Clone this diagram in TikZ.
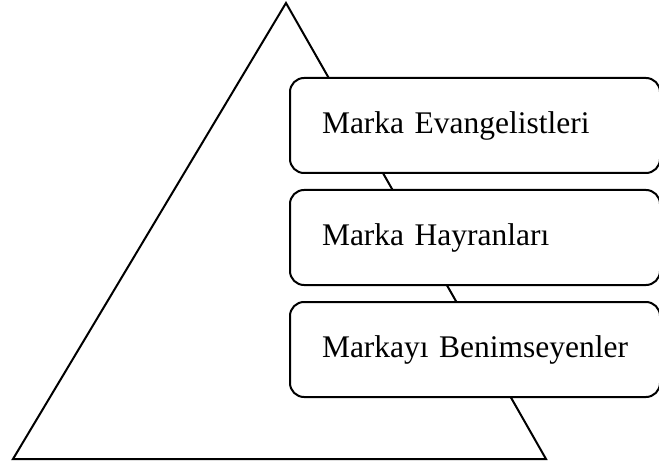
\documentclass[tikz,border=0pt]{standalone}
\usepackage{fontspec}
\setmainfont{Liberation Serif}
\usepackage{tikz}
\usetikzlibrary{positioning}
\tikzset{levelbox/.style={draw=black, fill=white, line width=2pt, rounded corners=14pt,
  minimum height=95pt, text width=306pt, inner xsep=32pt, align=left,
  anchor=north west, font=\fontsize{31.5}{38}\selectfont}}

\begin{document}
\begin{tikzpicture}[x=1pt, y=-1pt]
\useasboundingbox (0,0) rectangle (659,468);
\coordinate (apex) at (286,3);
\coordinate (left) at (13,459);
\coordinate (right) at (546,459);
\draw[line width=2pt, line join=miter] (apex) -- (left) -- (right) -- cycle;

\node[levelbox] (evangelist) at (289,77) {\mbox{Marka Evangelistleri}};
\node[levelbox, below=15pt of evangelist.south west, anchor=north west] (fans) {\mbox{Marka Hayranları}};
\node[levelbox, below=15pt of fans.south west, anchor=north west] (adopters) {\mbox{Markayı Benimseyenler}};
\end{tikzpicture}
\end{document}
